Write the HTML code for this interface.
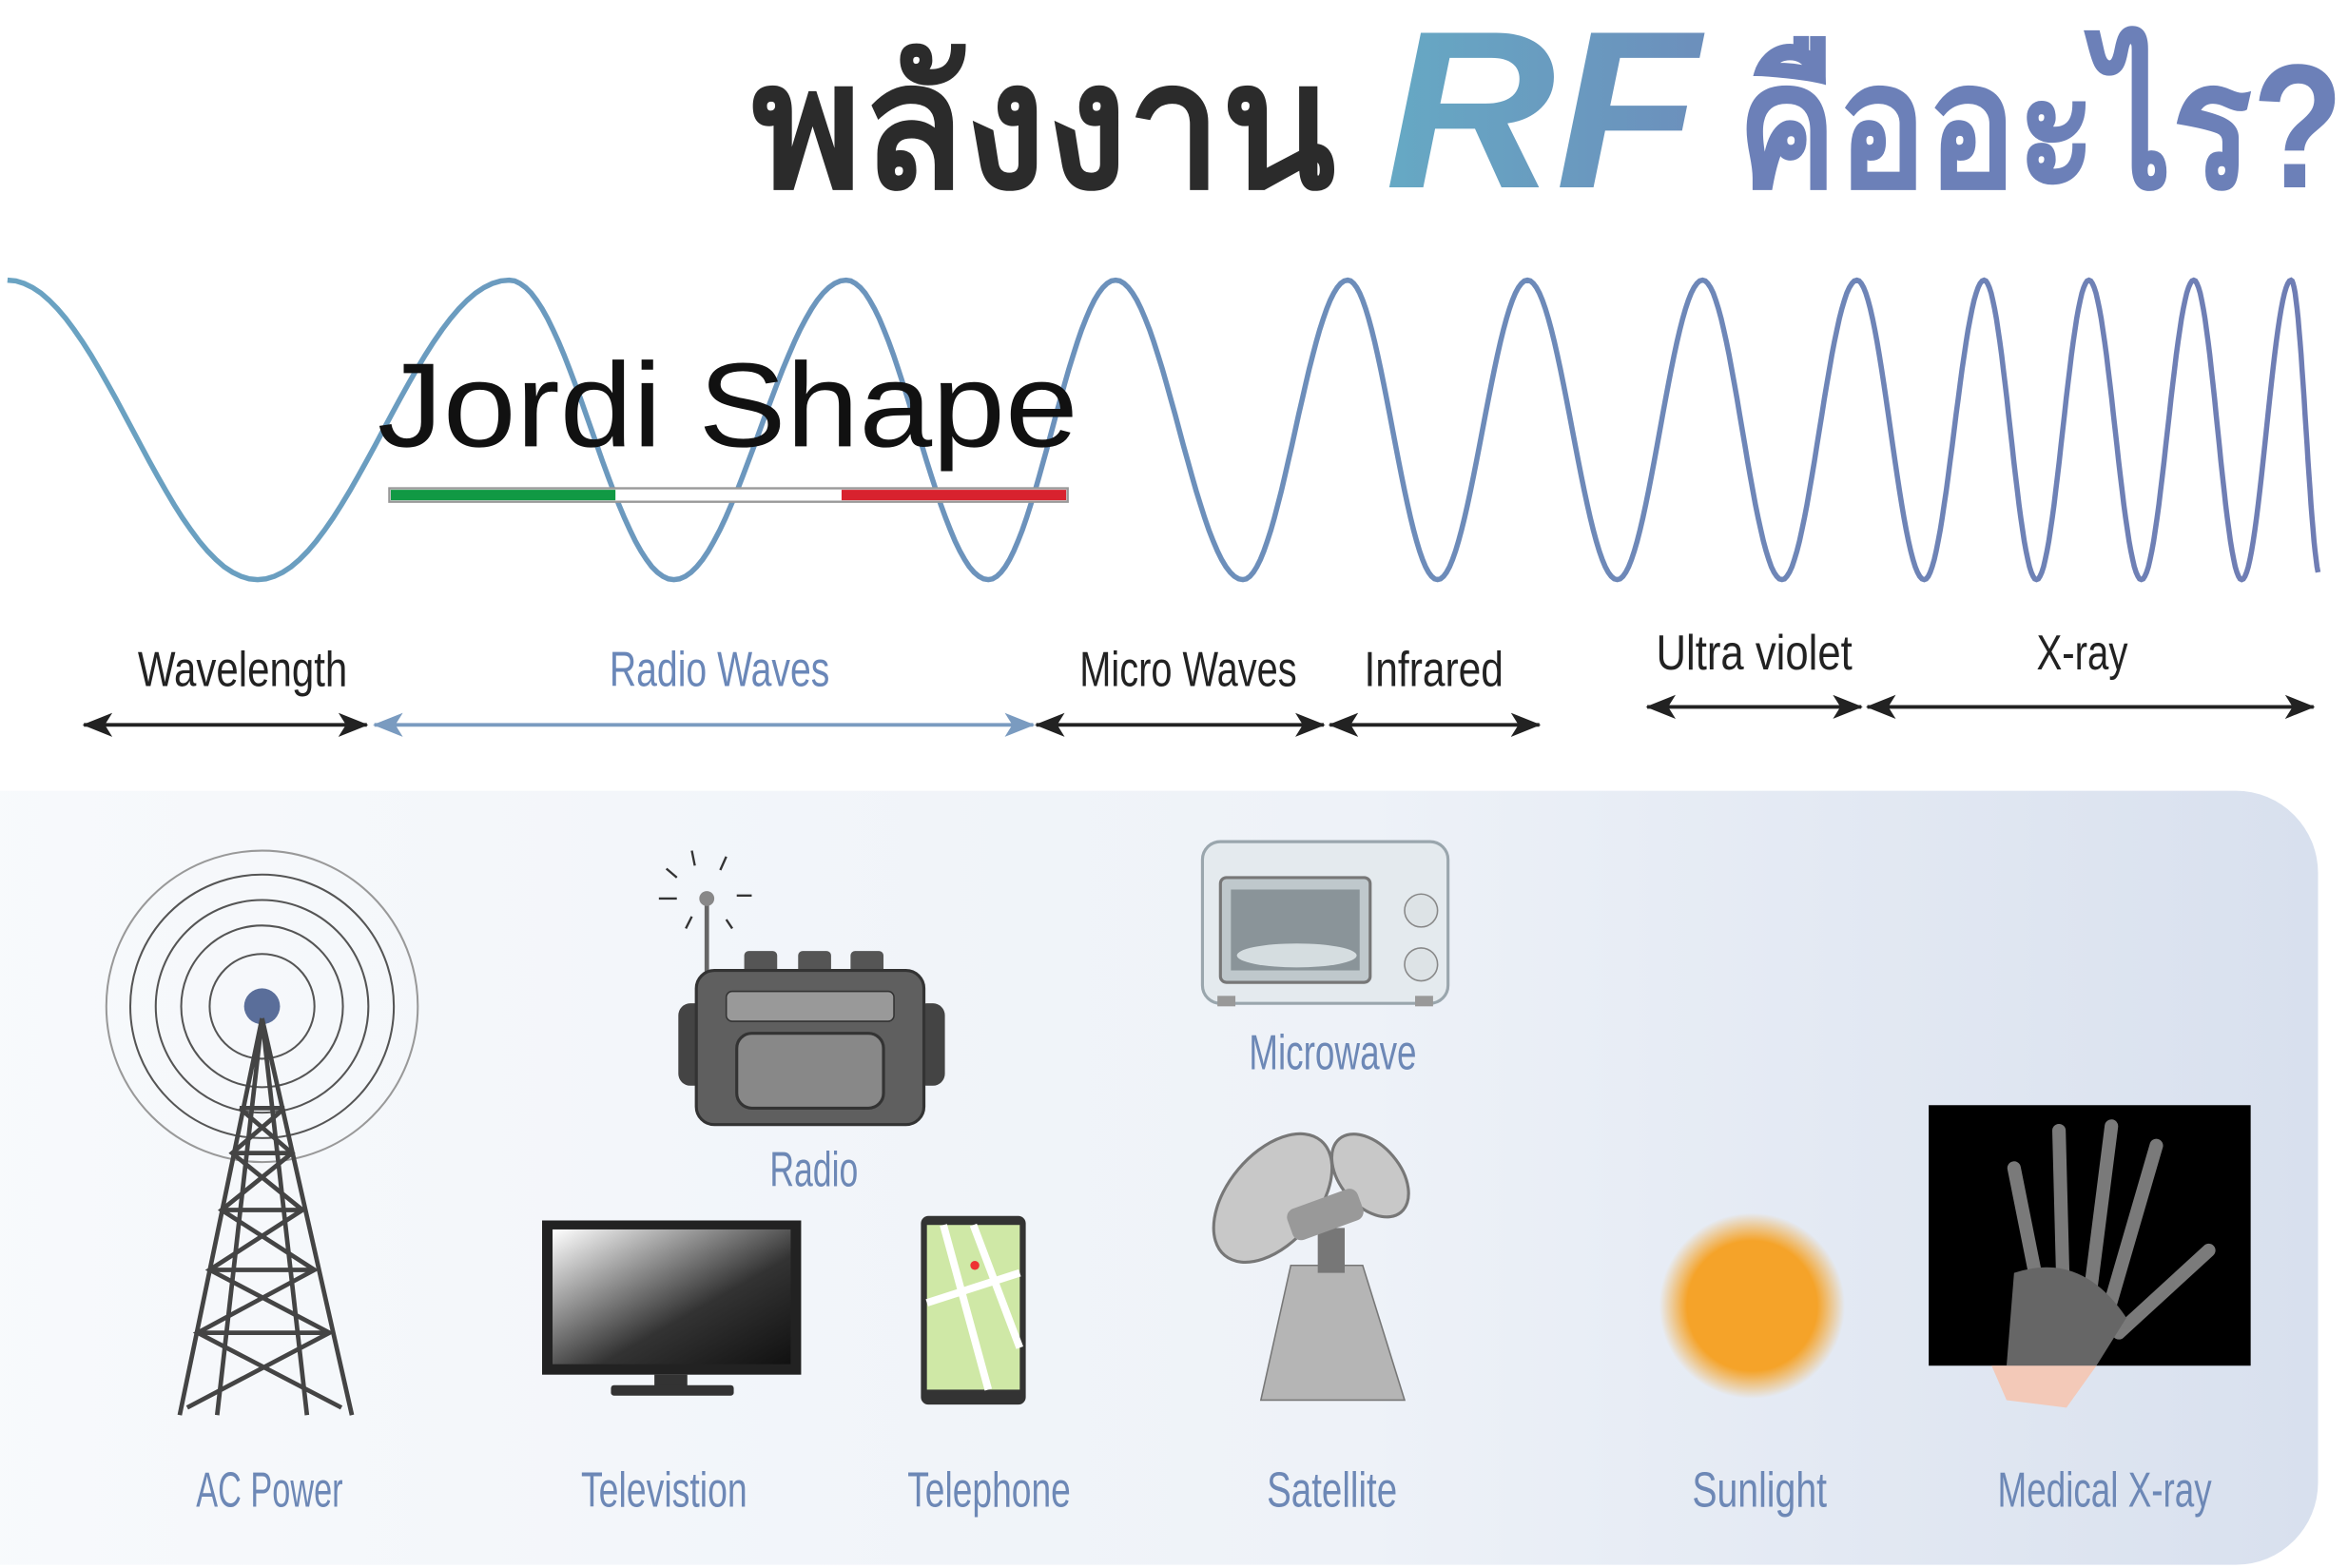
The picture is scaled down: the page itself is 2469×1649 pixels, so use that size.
<!DOCTYPE html>
<html><head><meta charset="utf-8">
<style>
html,body{margin:0;padding:0;background:#fff;}
svg{display:block;}
.lbl{font-family:"Liberation Sans Narrow","Liberation Sans",sans-serif;font-size:33px;}
</style></head>
<body>
<svg id="s" width="2469" height="1649" viewBox="0 0 1568 1047" xmlns="http://www.w3.org/2000/svg">
<defs>
<linearGradient id="wg" x1="0" x2="1" y1="0" y2="0">
<stop offset="0" stop-color="#6aa3c2"/><stop offset="1" stop-color="#6f7db4"/></linearGradient>
<linearGradient id="pg" x1="0" x2="1" y1="0" y2="0">
<stop offset="0" stop-color="#f8fafc"/><stop offset="0.6" stop-color="#eef2f8"/><stop offset="1" stop-color="#d8e0ee"/></linearGradient>
<linearGradient id="rf" x1="0" x2="1"><stop offset="0" stop-color="#66a9c4"/><stop offset="1" stop-color="#6c8fbc"/></linearGradient>
<linearGradient id="tv" x1="0" y1="0" x2="1" y2="1"><stop offset="0" stop-color="#fff"/><stop offset="0.6" stop-color="#333"/><stop offset="1" stop-color="#111"/></linearGradient>
<radialGradient id="sun"><stop offset="0.7" stop-color="#f5a329"/><stop offset="1" stop-color="#f5a329" stop-opacity="0"/></radialGradient>
<marker id="ab" markerWidth="20" markerHeight="20" refX="19" refY="8" orient="auto-start-reverse" markerUnits="userSpaceOnUse"><path d="M0,0 L20,8 L0,16 L5,8z" fill="#7a9bc0"/></marker>
<marker id="ak" markerWidth="20" markerHeight="20" refX="19" refY="8" orient="auto-start-reverse" markerUnits="userSpaceOnUse"><path d="M0,0 L20,8 L0,16 L5,8z" fill="#222"/></marker>
</defs>

<text x="502" y="125" font-family="'Liberation Sans',sans-serif" font-weight="bold" font-size="118" fill="#2b2b2b" textLength="390" lengthAdjust="spacingAndGlyphs">พลังงาน</text>
<text x="925" y="125" font-family="'Liberation Sans',sans-serif" font-weight="bold" font-style="italic" font-size="150" fill="url(#rf)" textLength="210" lengthAdjust="spacingAndGlyphs">RF</text>
<text x="1160" y="125" font-family="'Liberation Sans',sans-serif" font-weight="bold" font-size="118" fill="#6c80b8" textLength="405" lengthAdjust="spacingAndGlyphs">คืออะไร?</text>

<path id="wave" d="" fill="none" stroke="url(#wg)" stroke-width="3.5"/>

<text x="252" y="298" font-family="'Liberation Sans',sans-serif" font-size="80" fill="#111" textLength="468" lengthAdjust="spacingAndGlyphs">Jordi Shape</text>
<rect x="260" y="326" width="453" height="9" fill="#fff" stroke="#999" stroke-width="1.5"/>
<rect x="261" y="327" width="150" height="7" fill="#119944"/>
<rect x="562" y="327" width="150" height="7" fill="#d8222e"/>

<g class="lbl" lengthAdjust="spacingAndGlyphs">
<text x="92" y="458" fill="#222" textLength="140" lengthAdjust="spacingAndGlyphs">Wavelength</text>
<text x="407" y="458" fill="#6a87b8" textLength="147" lengthAdjust="spacingAndGlyphs">Radio Waves</text>
<text x="721" y="458" fill="#222" textLength="145" lengthAdjust="spacingAndGlyphs">Micro Waves</text>
<text x="911" y="458" fill="#222" textLength="93" lengthAdjust="spacingAndGlyphs">Infrared</text>
<text x="1106" y="447" fill="#222" textLength="131" lengthAdjust="spacingAndGlyphs">Ultra violet</text>
<text x="1360" y="447" fill="#222" textLength="61" lengthAdjust="spacingAndGlyphs">X-ray</text>
</g>
<g stroke-width="2.5" fill="none">
<line x1="56" y1="484" x2="245" y2="484" stroke="#222" marker-start="url(#ak)" marker-end="url(#ak)"/>
<line x1="250" y1="484" x2="690" y2="484" stroke="#7a9bc0" marker-start="url(#ab)" marker-end="url(#ab)"/>
<line x1="692" y1="484" x2="884" y2="484" stroke="#222" marker-start="url(#ak)" marker-end="url(#ak)"/>
<line x1="888" y1="484" x2="1028" y2="484" stroke="#222" marker-start="url(#ak)" marker-end="url(#ak)"/>
<line x1="1100" y1="472" x2="1243" y2="472" stroke="#222" marker-start="url(#ak)" marker-end="url(#ak)"/>
<line x1="1247" y1="472" x2="1545" y2="472" stroke="#222" marker-start="url(#ak)" marker-end="url(#ak)"/>
</g>

<rect x="-60" y="528" width="1608" height="517" rx="55" fill="url(#pg)"/>

<g fill="none" stroke="#555" stroke-width="1.3">
<circle cx="175" cy="672" r="35"/><circle cx="175" cy="672" r="54"/><circle cx="175" cy="672" r="71"/><circle cx="175" cy="672" r="88"/><circle cx="175" cy="672" r="104" stroke="#999"/>
</g>
<circle cx="175" cy="672" r="12" fill="#5a6e9a"/>
<g stroke="#444" stroke-width="3" fill="none">
<path d="M175,680 L120,945 M175,680 L235,945 M175,680 L145,945 M175,680 L205,945"/>
<path d="M160,740 L190,740 M155,770 L195,770 M148,808 L202,808 M140,848 L210,848 M132,890 L220,890"/>
<path d="M160,740 L195,770 L148,808 L210,848 L132,890 L228,940 M190,740 L155,770 L202,808 L140,848 L220,890 L125,940"/>
</g>

<g>
<line x1="472" y1="600" x2="472" y2="650" stroke="#666" stroke-width="3"/>
<circle cx="472" cy="600" r="5" fill="#888"/>
<g stroke="#333" stroke-width="1.5"><line x1="445" y1="580" x2="452" y2="586"/><line x1="462" y1="568" x2="464" y2="578"/><line x1="485" y1="572" x2="481" y2="581"/><line x1="440" y1="600" x2="452" y2="600"/><line x1="492" y1="598" x2="502" y2="598"/><line x1="458" y1="620" x2="462" y2="612"/><line x1="485" y1="614" x2="489" y2="620"/></g>
<rect x="497" y="635" width="22" height="18" rx="3" fill="#555"/><rect x="533" y="635" width="22" height="18" rx="3" fill="#555"/><rect x="568" y="635" width="22" height="18" rx="3" fill="#555"/>
<rect x="453" y="670" width="20" height="55" rx="8" fill="#444"/><rect x="611" y="670" width="20" height="55" rx="8" fill="#444"/>
<rect x="465" y="648" width="152" height="103" rx="12" fill="#5f5f5f" stroke="#333" stroke-width="2"/>
<rect x="485" y="662" width="112" height="20" rx="4" fill="#999" stroke="#333"/>
<rect x="492" y="690" width="98" height="50" rx="10" fill="#888" stroke="#333" stroke-width="2"/>
</g>

<rect x="362" y="815" width="173" height="103" fill="#222"/>
<rect x="369" y="821" width="159" height="90" fill="url(#tv)"/>
<rect x="437" y="918" width="22" height="8" fill="#333"/>
<rect x="408" y="925" width="82" height="7" rx="2" fill="#333"/>

<rect x="615" y="812" width="70" height="126" rx="5" fill="#333"/>
<rect x="619" y="818" width="62" height="110" fill="#cfe8a6"/>
<path d="M630,818 L660,928 M619,870 L681,850 M650,818 L681,900" stroke="#fff" stroke-width="5"/>
<circle cx="651" cy="845" r="3" fill="#e33"/>

<rect x="803" y="562" width="164" height="108" rx="12" fill="#e4eaee" stroke="#9aa6ad" stroke-width="2"/>
<rect x="815" y="586" width="100" height="70" rx="4" fill="#bfc8cc" stroke="#777" stroke-width="2"/>
<rect x="822" y="594" width="86" height="54" fill="#8a9499"/>
<ellipse cx="866" cy="638" rx="40" ry="8" fill="#d5dde0"/>
<circle cx="949" cy="608" r="11" fill="#dde3e6" stroke="#888"/><circle cx="949" cy="644" r="11" fill="#dde3e6" stroke="#888"/>
<rect x="813" y="665" width="12" height="7" fill="#999"/><rect x="945" y="665" width="12" height="7" fill="#999"/>

<path d="M862,845 L910,845 L938,935 L842,935 Z" fill="#b5b5b5" stroke="#777"/>
<rect x="880" y="820" width="18" height="30" fill="#777"/>
<ellipse cx="850" cy="800" rx="30" ry="50" transform="rotate(40 850 800)" fill="#c8c8c8" stroke="#777" stroke-width="2"/>
<ellipse cx="915" cy="785" rx="20" ry="32" transform="rotate(-40 915 785)" fill="#c8c8c8" stroke="#777" stroke-width="2"/>
<rect x="860" y="800" width="50" height="22" rx="6" fill="#999" transform="rotate(-20 885 811)"/>

<circle cx="1170" cy="872" r="62" fill="url(#sun)"/>

<rect x="1288" y="738" width="215" height="174" fill="#000"/>
<g stroke="#888" stroke-width="9" stroke-linecap="round" fill="none" opacity="0.9">
<path d="M1365,880 L1345,780"/><path d="M1378,870 L1375,755"/><path d="M1395,870 L1410,752"/><path d="M1408,875 L1440,765"/><path d="M1415,890 L1475,835"/>
</g>
<path d="M1345,850 Q1390,835 1420,880 L1400,912 L1340,912 Z" fill="#666"/>
<path d="M1330,912 L1400,912 L1380,940 L1340,935 Z" fill="#f3c9b8"/>

<g class="lbl" fill="#6d88b6">
<text x="131" y="1006" textLength="98" lengthAdjust="spacingAndGlyphs">AC Power</text>
<text x="388" y="1006" textLength="111" lengthAdjust="spacingAndGlyphs">Televistion</text>
<text x="606" y="1006" textLength="109" lengthAdjust="spacingAndGlyphs">Telephone</text>
<text x="846" y="1006" textLength="87" lengthAdjust="spacingAndGlyphs">Satellite</text>
<text x="1130" y="1006" textLength="90" lengthAdjust="spacingAndGlyphs">Sunlight</text>
<text x="1334" y="1006" textLength="143" lengthAdjust="spacingAndGlyphs">Medical X-ray</text>
<text x="514" y="792" textLength="59" lengthAdjust="spacingAndGlyphs">Radio</text>
<text x="834" y="714" textLength="112" lengthAdjust="spacingAndGlyphs">Microwave</text>
</g>
</svg>
<script>
(function(){
var ext=[[5,187],[172,387],[340,187],[450,387],[565,187],[660,387],[745,187],[830,387],[900,187],[960,387],[1020,187],[1080,387],[1137,187],[1190,387],[1240,187],[1285,387],[1325,187],[1360,387],[1395,187],[1430,387],[1465,187],[1497,387],[1530,187],[1550,387]];
var d="M"+ext[0][0]+","+ext[0][1];
for(var i=0;i<ext.length-1;i++){var a=ext[i],b=ext[i+1];
for(var k=1;k<=30;k++){var t=k/30;if(i==ext.length-2&&t>0.9)break;var x=a[0]+(b[0]-a[0])*t;var y=a[1]+(b[1]-a[1])*(1-Math.cos(Math.PI*t))/2;d+=" L"+x.toFixed(1)+","+y.toFixed(1);}}
document.getElementById("wave").setAttribute("d",d);
})();
</script>
</body></html>
